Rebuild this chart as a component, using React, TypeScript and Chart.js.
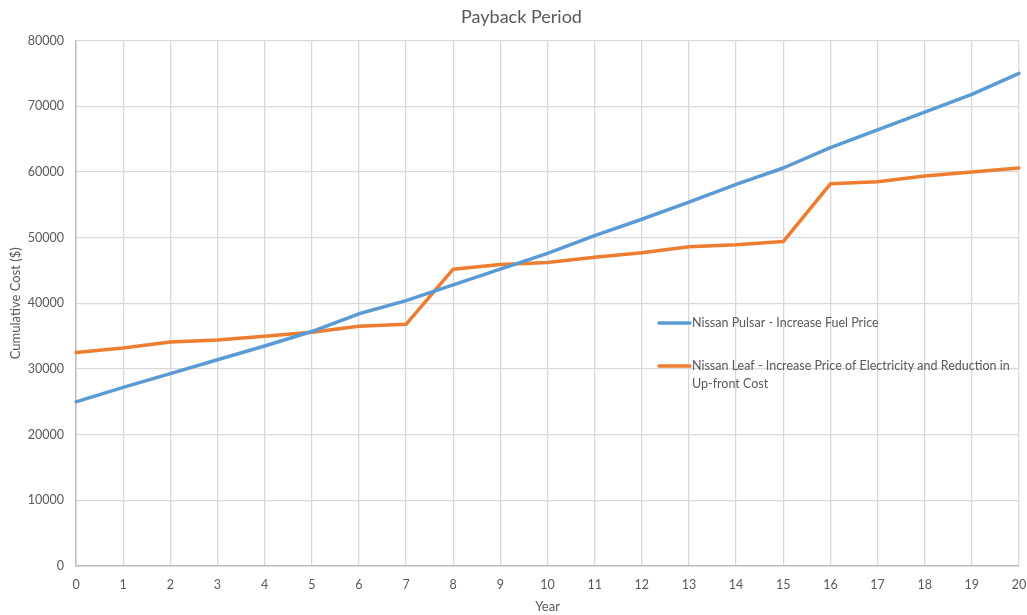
import React, { useEffect, useRef } from "react";
import { Chart, registerables } from "chart.js";

Chart.register(...registerables);

const years = ["0","1","2","3","4","5","6","7","8","9","10","11","12","13","14","15","16","17","18","19","20"];

const pulsarLabel = "Nissan Pulsar - Increase Fuel Price";
const pulsarCost = [25000, 27200, 29300, 31400, 33500, 35700, 38400, 40400, 42800, 45200, 47600, 50300, 52800, 55400, 58100, 60600, 63700, 66400, 69100, 71800, 75000];

const leafLabel = "Nissan Leaf - Increase Price of Electricity and Reduction in Up-front Cost";
const leafCost = [32500, 33200, 34100, 34400, 35000, 35600, 36500, 36800, 45200, 45900, 46200, 47000, 47700, 48600, 48900, 49400, 58200, 58500, 59400, 60000, 60600];

const yTicks = [0, 10000, 20000, 30000, 40000, 50000, 60000, 70000, 80000];

const BLUE = "#5b9bd5";
const ORANGE = "#ed7d31";
const TEXT = "#595959";
const GRID = "#d9d9d9";
const FONT = "Lato, 'Open Sans', sans-serif";

// Legend drawn inside the plot area, with word wrapping for long labels.
const insideLegend = {
  id: "insideLegend",
  afterDatasetsDraw(chart: any) {
    const { ctx } = chart;
    const x0 = 659;
    const lineLen = 31;
    const textX = x0 + lineLen + 2;
    const maxW = 325;
    const rows = [323, 366];
    ctx.save();
    ctx.font = `12.5px ${FONT}`;
    ctx.fillStyle = TEXT;
    ctx.textBaseline = "middle";
    chart.data.datasets.forEach((ds: any, i: number) => {
      const y = rows[i];
      ctx.strokeStyle = ds.borderColor;
      ctx.lineWidth = 3.5;
      ctx.lineCap = "round";
      ctx.beginPath();
      ctx.moveTo(x0, y);
      ctx.lineTo(x0 + lineLen, y);
      ctx.stroke();
      const words = String(ds.label).split(" ");
      const lines: string[] = [];
      let cur = "";
      for (const w of words) {
        const test = cur ? cur + " " + w : w;
        if (ctx.measureText(test).width > maxW && cur) {
          lines.push(cur);
          cur = w;
        } else {
          cur = test;
        }
      }
      if (cur) lines.push(cur);
      lines.forEach((ln, k) => ctx.fillText(ln, textX, y + k * 18));
    });
    ctx.restore();
  },
};

export default function App() {
  const ref = useRef<HTMLCanvasElement | null>(null);

  useEffect(() => {
    if (!ref.current) return;
    const chart = new Chart(ref.current, {
      type: "line",
      data: {
        labels: years,
        datasets: [
          {
            label: pulsarLabel,
            data: pulsarCost,
            borderColor: BLUE,
            backgroundColor: BLUE,
            borderWidth: 3.5,
            pointRadius: 0,
            tension: 0,
            borderJoinStyle: "round",
            borderCapStyle: "round",
          },
          {
            label: leafLabel,
            data: leafCost,
            borderColor: ORANGE,
            backgroundColor: ORANGE,
            borderWidth: 3.5,
            pointRadius: 0,
            tension: 0,
            borderJoinStyle: "round",
            borderCapStyle: "round",
          },
        ],
      },
      options: {
        animation: false,
        responsive: true,
        maintainAspectRatio: false,
        layout: { padding: { left: 16, right: 0, top: 0, bottom: 0 } },
        plugins: {
          legend: { display: false },
          tooltip: { enabled: false },
          title: {
            display: true,
            text: "Payback Period",
            color: TEXT,
            font: { family: FONT, size: 18, weight: "normal", lineHeight: 1.2 },
            padding: { top: 6, bottom: 13 },
          },
        },
        scales: {
          x: {
            type: "category",
            offset: false,
            grid: { color: GRID, lineWidth: 1.3, drawTicks: false },
            border: { color: "#bfbfbf", width: 1.5 },
            ticks: { color: TEXT, font: { family: FONT, size: 12.5 }, padding: 11, maxRotation: 0, autoSkip: false },
            title: {
              display: true,
              text: "Year",
              color: TEXT,
              font: { family: FONT, size: 13 },
              padding: { top: 2, bottom: 0 },
            },
            afterFit(scale: any) {
              scale.height = 49;
              scale.paddingLeft = 0;
              scale.paddingRight = 8;
            },
          },
          y: {
            min: 0,
            max: 80000,
            afterBuildTicks(scale: any) {
              scale.ticks = yTicks.map((v) => ({ value: v }));
            },
            grid: { color: GRID, lineWidth: 1.3, drawTicks: false },
            border: { color: "#bfbfbf", width: 1.5 },
            ticks: {
              color: TEXT,
              font: { family: FONT, size: 12.5 },
              padding: 12,
              callback: (v: any) => String(v),
            },
            title: {
              display: true,
              text: "Cumulative Cost ($)",
              color: TEXT,
              font: { family: FONT, size: 13 },
              padding: { top: -8, bottom: 0 },
            },
            afterFit(scale: any) {
              scale.width = 60;
            },
          },
        },
      },
      plugins: [insideLegend],
    });
    return () => chart.destroy();
  }, []);

  return (
    <div style={{ position: "fixed", left: 0, top: 0, width: 1027, height: 615, background: "#fff" }}>
      <canvas ref={ref} />
    </div>
  );
}
